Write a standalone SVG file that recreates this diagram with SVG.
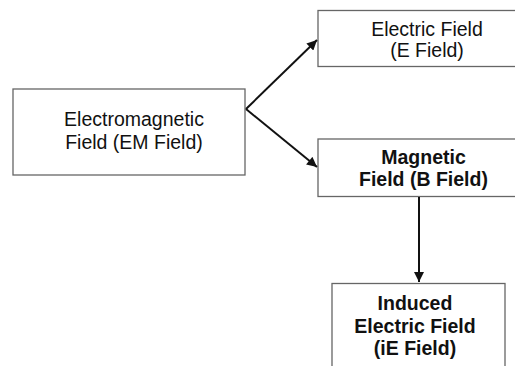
<svg xmlns="http://www.w3.org/2000/svg" width="515" height="366" viewBox="0 0 515 366">
<defs>
<style>
.box{fill:#fff;stroke:#666;stroke-width:1.3}
.t{font-family:"Liberation Sans",Arial,sans-serif;font-size:19.5px;fill:#111;text-anchor:middle}
.b{font-weight:bold}
.c{stroke:#111;stroke-width:2;fill:none;marker-end:url(#ah)}
</style>
<marker id="ah" viewBox="0 0 10 10" refX="10" refY="5" markerWidth="5.5" markerHeight="5" orient="auto" markerUnits="strokeWidth">
<path d="M0,0 L10,5 L0,10 z" fill="#111"/>
</marker>
</defs>
<rect width="515" height="366" fill="#fff"/>
<g id="em">
<rect class="box" x="13" y="89" width="232" height="86"/>
<text class="t" x="134" y="126">Electromagnetic</text>
<text class="t" x="134" y="149">Field (EM Field)</text>
</g>
<g id="e">
<rect class="box" x="318" y="10.5" width="210" height="56"/>
<text class="t" x="427" y="36">Electric Field</text>
<text class="t" x="427" y="57">(E Field)</text>
</g>
<g id="b">
<rect class="box" x="318" y="139" width="210" height="57.5"/>
<text class="t b" x="423.5" y="164">Magnetic</text>
<text class="t b" x="423.5" y="185.5">Field (B Field)</text>
</g>
<g id="ie">
<rect class="box" x="332" y="283.5" width="173" height="100"/>
<text class="t b" x="415" y="310">Induced</text>
<text class="t b" x="415" y="333">Electric Field</text>
<text class="t b" x="415" y="355">(iE Field)</text>
</g>
<g id="connectors">
<path class="c" d="M246,109 L317,40"/>
<path class="c" d="M246,109 L317,167"/>
<path class="c" d="M419,197 L419,282"/>
</g>
</svg>
